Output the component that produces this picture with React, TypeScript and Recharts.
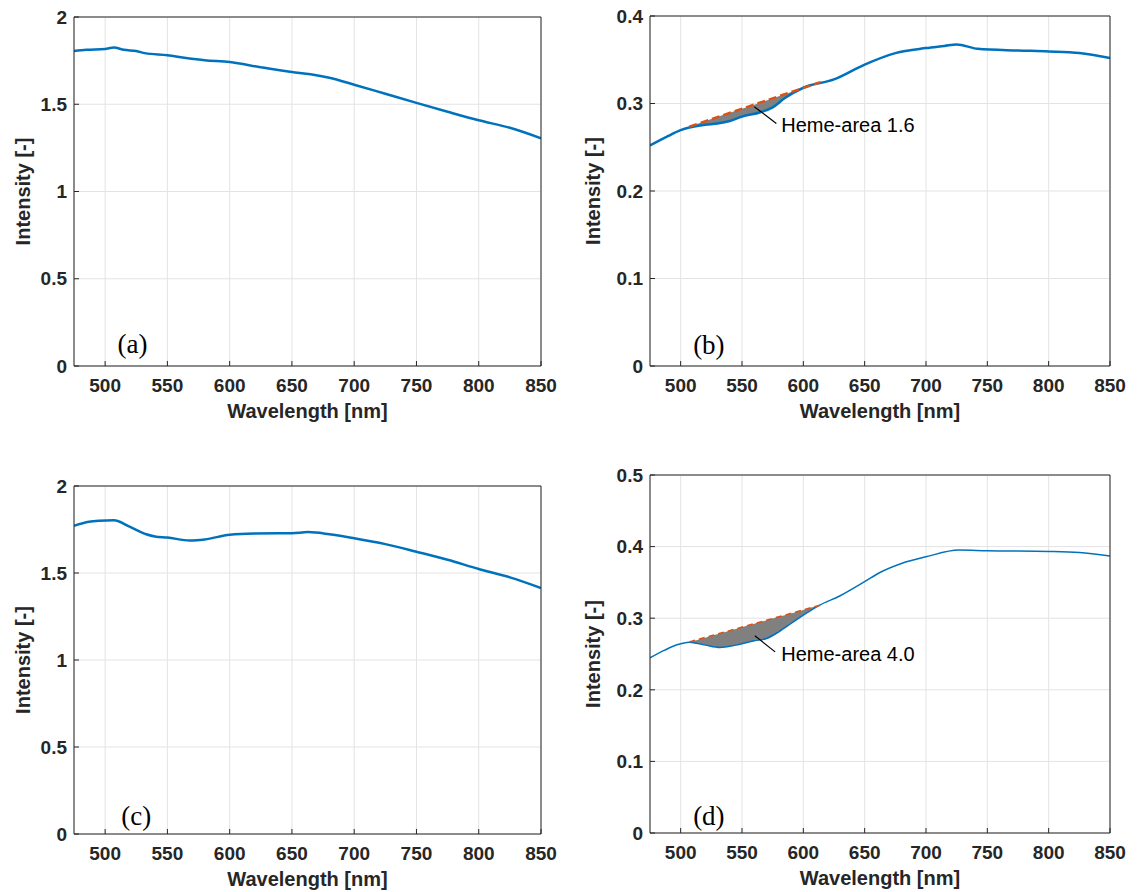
import React from "react";
import {
  ComposedChart,
  Line,
  Area,
  XAxis,
  YAxis,
  CartesianGrid,
  ReferenceLine,
  ReferenceDot,
} from "recharts";

// Spectra (wavelength in nm, intensity unitless).
const X_TICKS = [500, 550, 600, 650, 700, 750, 800, 850];
const Y_TICKS_BIG = [0, 0.5, 1, 1.5, 2];
const Y_TICKS_B = [0, 0.1, 0.2, 0.3, 0.4];
const Y_TICKS_D = [0, 0.1, 0.2, 0.3, 0.4, 0.5];

// (a)
const wlA = [475, 485, 500, 507, 515, 525, 532, 550, 565, 580, 600, 625, 650, 665, 680, 700, 725, 750, 775, 800, 825, 850];
const intA = [1.805, 1.812, 1.817, 1.825, 1.812, 1.805, 1.793, 1.781, 1.765, 1.752, 1.742, 1.712, 1.685, 1.672, 1.652, 1.612, 1.56, 1.508, 1.457, 1.408, 1.365, 1.305];

// (b)
const wlB = [475, 490, 500, 507, 510, 520, 530, 540, 550, 565, 575, 585, 600, 625, 650, 675, 700, 715, 725, 742, 775, 800, 825, 850];
const intB = [0.252, 0.263, 0.2696, 0.2725, 0.2734, 0.2757, 0.2772, 0.28, 0.285, 0.29, 0.2956, 0.3063, 0.318, 0.3275, 0.3445, 0.3576, 0.3633, 0.3658, 0.3675, 0.3625, 0.3606, 0.3595, 0.3576, 0.352];
const shadeWlB = [507, 510, 520, 530, 540, 550, 565, 575, 585, 600];
const shadeLowB = [0.2725, 0.2734, 0.2757, 0.2772, 0.28, 0.285, 0.29, 0.2956, 0.3063, 0.318];
const shadeHighB = [0.2735, 0.2751, 0.2798, 0.2845, 0.2893, 0.294, 0.301, 0.3058, 0.3106, 0.318];
const baseWlB = [507, 614];
const baseIntB = [0.2735, 0.3245];

// (c)
const wlC = [475, 487, 495, 507, 520, 533, 540, 550, 568, 580, 600, 620, 650, 663, 680, 700, 725, 750, 775, 800, 825, 850];
const intC = [1.771, 1.794, 1.8, 1.803, 1.765, 1.723, 1.71, 1.704, 1.687, 1.693, 1.72, 1.727, 1.729, 1.735, 1.723, 1.7, 1.666, 1.622, 1.576, 1.523, 1.475, 1.414];

// (d)
const wlD = [475, 487, 497, 507, 520, 532, 545, 560, 570, 580, 590, 600, 613, 630, 650, 662, 680, 700, 727, 750, 800, 825, 850];
const intD = [0.2446, 0.2554, 0.2628, 0.2665, 0.2624, 0.2591, 0.2624, 0.2684, 0.2717, 0.281, 0.2926, 0.3043, 0.318, 0.3313, 0.351, 0.3635, 0.3765, 0.3858, 0.3951, 0.3942, 0.3933, 0.3919, 0.3868];
const shadeWlD = [507, 520, 532, 545, 560, 570, 580, 590, 600, 613];
const shadeLowD = [0.2665, 0.2624, 0.2591, 0.2624, 0.2684, 0.2717, 0.281, 0.2926, 0.3043, 0.318];
const shadeHighD = [0.2668, 0.2728, 0.2786, 0.2849, 0.2922, 0.297, 0.3019, 0.3067, 0.3115, 0.318];
const baseWlD = [507, 614];
const baseIntD = [0.2668, 0.3183];

const AX = "#262626";
const GRID = "#e3e3e3";
const BLUE = "#0072BD";
const RED = "#D95319";
const SHADE = "#808080";
const FONT = '"Liberation Sans", Arial, Helvetica, sans-serif';
const SERIF = '"Liberation Serif", "Times New Roman", serif';

const rows = (xs: number[], ys: number[]) => xs.map((w, i) => ({ w, v: ys[i] }));
const band = (xs: number[], lo: number[], hi: number[]) =>
  xs.map((w, i) => ({ w, band: [lo[i], hi[i]] }));

const tickStyle = { fill: AX, fontSize: 19, fontWeight: 700, fontFamily: FONT };
const titleStyle = { fill: AX, fontSize: 20, fontWeight: 700, fontFamily: FONT };

type PanelProps = {
  left: number;
  top: number;
  width: number;
  height: number;
  plot: [number, number, number, number]; // left, top, right, bottom in page px
  yDomain: [number, number];
  yTicks: number[];
  tag: string;
  tagAt: [number, number];
  children?: React.ReactNode;
};

function Panel({ left, top, width, height, plot, yDomain, yTicks, tag, tagAt, children }: PanelProps) {
  const [pl, pt, pr, pb] = plot;
  const xh = 56;
  return (
    <div style={{ position: "absolute", left, top, width, height }}>
      <ComposedChart
        width={width}
        height={height}
        margin={{
          top: pt - top - 1,
          right: left + width - pr - 1,
          bottom: top + height - pb - xh,
          left: 0,
        }}
      >
        <CartesianGrid stroke={GRID} strokeWidth={1} />
        <XAxis
          dataKey="w"
          type="number"
          domain={[475, 850]}
          ticks={X_TICKS}
          allowDataOverflow
          height={xh}
          tickSize={-5}
          tickMargin={18}
          tickLine={{ stroke: AX }}
          axisLine={{ stroke: AX }}
          tick={tickStyle}
          label={{ value: "Wavelength [nm]", position: "insideBottom", offset: 4, ...titleStyle }}
        />
        <YAxis
          type="number"
          domain={yDomain}
          ticks={yTicks}
          allowDataOverflow
          width={pl - left}
          tickSize={-5}
          tickMargin={12}
          tickLine={{ stroke: AX }}
          axisLine={{ stroke: AX }}
          tick={tickStyle}
          label={{
            value: "Intensity [-]",
            angle: -90,
            position: "insideLeft",
            offset: 23,
            style: { textAnchor: "middle" },
            ...titleStyle,
          }}
        />
        <XAxis
          xAxisId="top"
          orientation="top"
          type="number"
          domain={[475, 850]}
          ticks={X_TICKS}
          allowDataOverflow
          height={1}
          tickSize={-5}
          tick={false}
          tickLine={{ stroke: AX }}
          axisLine={{ stroke: AX }}
        />
        <YAxis
          yAxisId="right"
          orientation="right"
          type="number"
          domain={yDomain}
          ticks={yTicks}
          allowDataOverflow
          width={1}
          tickSize={-5}
          tick={false}
          tickLine={{ stroke: AX }}
          axisLine={{ stroke: AX }}
        />
        {children}
        <ReferenceDot
          x={tagAt[0]}
          y={tagAt[1]}
          r={0}
          fill="none"
          stroke="none"
          label={{ value: tag, position: "center", fill: "#000", fontSize: 27, fontFamily: SERIF }}
        />
      </ComposedChart>
    </div>
  );
}

export default function App() {
  return (
    <div style={{ position: "absolute", left: 0, top: 0, width: 1139, height: 892, background: "#fff" }}>
      <Panel left={0} top={0} width={570} height={440} plot={[74, 17, 541, 366]} yDomain={[0, 2]} yTicks={Y_TICKS_BIG} tag="(a)" tagAt={[522, 0.132]}>
        <Line data={rows(wlA, intA)} dataKey="v" type="monotone" stroke={BLUE} strokeWidth={2.5} dot={false} isAnimationActive={false} />
      </Panel>

      <Panel left={570} top={0} width={569} height={440} plot={[650, 16, 1110, 366]} yDomain={[0, 0.4]} yTicks={Y_TICKS_B} tag="(b)" tagAt={[523, 0.025]}>
        <Area data={band(shadeWlB, shadeLowB, shadeHighB)} dataKey="band" type="monotone" stroke="none" fill={SHADE} fillOpacity={1} isAnimationActive={false} />
        <Line data={rows(wlB, intB)} dataKey="v" type="monotone" stroke={BLUE} strokeWidth={2.5} dot={false} isAnimationActive={false} />
        <Line data={rows(baseWlB, baseIntB)} dataKey="v" type="linear" stroke={RED} strokeWidth={2.5} strokeDasharray="8 4" dot={false} isAnimationActive={false} />
        <ReferenceLine segment={[{ x: 560, y: 0.2964 }, { x: 578, y: 0.2772 }]} stroke="#000" strokeWidth={1.2} />
        <ReferenceDot x={582} y={0.2755} r={0} fill="none" stroke="none" label={{ value: "Heme-area 1.6", position: "right", offset: 0, fill: "#000", fontSize: 20, fontFamily: FONT }} />
      </Panel>

      <Panel left={0} top={450} width={570} height={442} plot={[74, 486, 541, 834]} yDomain={[0, 2]} yTicks={Y_TICKS_BIG} tag="(c)" tagAt={[525, 0.109]}>
        <Line data={rows(wlC, intC)} dataKey="v" type="monotone" stroke={BLUE} strokeWidth={2.5} dot={false} isAnimationActive={false} />
      </Panel>

      <Panel left={570} top={450} width={569} height={442} plot={[650, 475, 1110, 833]} yDomain={[0, 0.5]} yTicks={Y_TICKS_D} tag="(d)" tagAt={[523, 0.025]}>
        <Area data={band(shadeWlD, shadeLowD, shadeHighD)} dataKey="band" type="monotone" stroke="none" fill={SHADE} fillOpacity={1} isAnimationActive={false} />
        <Line data={rows(wlD, intD)} dataKey="v" type="monotone" stroke={BLUE} strokeWidth={1.5} dot={false} isAnimationActive={false} />
        <Line data={rows(baseWlD, baseIntD)} dataKey="v" type="linear" stroke={RED} strokeWidth={1.6} strokeDasharray="6 4" dot={false} isAnimationActive={false} />
        <ReferenceLine segment={[{ x: 560.5, y: 0.2754 }, { x: 577, y: 0.253 }]} stroke="#000" strokeWidth={1.2} />
        <ReferenceDot x={582} y={0.2495} r={0} fill="none" stroke="none" label={{ value: "Heme-area 4.0", position: "right", offset: 0, fill: "#000", fontSize: 20, fontFamily: FONT }} />
      </Panel>
    </div>
  );
}
